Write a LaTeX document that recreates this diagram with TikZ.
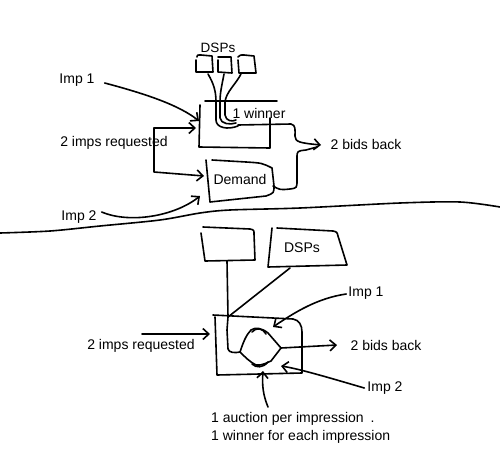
\documentclass[tikz,border=0pt]{standalone}
\usepackage{fontspec}
\setmainfont{Liberation Sans}
\usetikzlibrary{arrows.meta,calc}
\begin{document}
\begin{tikzpicture}[x=1pt,y=-1pt,
  sk/.style={line width=1.6pt,line cap=round,line join=round},
  arr/.style={sk,-{Straight Barb[length=6pt,width=11pt,line width=1.6pt]}},
  lbl/.style={font=\fontsize{14}{16}\selectfont,inner sep=0pt}]
\useasboundingbox (0,0) rectangle (500,458);

% ---------- top half ----------
\node[lbl,font=\fontsize{13.5}{15}\selectfont] (dspT) at (218,48) {DSPs};
\draw[sk] (197,57) .. controls (197,55) .. (201,55) -- (212,56) -- (213,72) -- (196,72) -- (196,60);
\draw[sk] (218,57) -- (231,57) -- (232,73) -- (218,72) -- (218,60);
\draw[sk] (238,57) .. controls (240,55) .. (244,55) -- (254,56) -- (256,73) -- (239,73) -- (238,60);

\coordinate (curlT) at (238,125);
\draw[sk] (208,74) .. controls (214,84) and (216,92) .. (216,102) -- (216,120) .. controls (216,128) and (228,130) .. (238,126);
\draw[sk] (224,74) .. controls (222,85) and (220,92) .. (220,102) -- (220,118) .. controls (221,124) and (230,125) .. (236,123);
\draw[sk] (241,74) .. controls (236,84) and (226,92) .. (225,102) -- (225,115) .. controls (226,121) and (232,122) .. (236,120);

% auction box (top)
\draw[sk] (205,101) -- (277,101);
\draw[sk] (200,105) -- (199,147) -- (270,148) -- (270,118);
\node[lbl] (win) at (259,113) {1 winner};

% demand box
\draw[sk] (212,160) -- (246,162) .. controls (262,163) .. (272,168) -- (274,186) .. controls (274,193) .. (266,196) -- (210,202) -- (206,160);
\node[lbl] (dem) at (240,179) {Demand};

% bids back (top)
\node[lbl] (bidsT) at (366,144) {2 bids back};
\coordinate (tipT) at (321,145);
\draw[arr] (curlT) -- (291,124) .. controls (296,125) and (295,130) .. (295,136) .. controls (295,142) and (300,143) .. (tipT);
\draw[sk] (273,186) .. controls (280,190) .. (290,189) .. controls (297,188) .. (297,180) -- (297,158) .. controls (297,151) .. (306,150) -- (317,147);

% Imp 1 (top)
\node[lbl] (imp1T) at (77,80) {Imp 1};
\coordinate (a1T) at (199,121);
\draw[arr] ($(imp1T.east)+(10,3)$) .. controls (150,95) and (180,106) .. (a1T);

% 2 imps requested (top)
\node[lbl] (reqT) at (114,143) {2 imps requested};
\coordinate (brT) at (154,128);
\coordinate (r1T) at (196,128);
\coordinate (r2T) at (204,176);
\draw[arr] (brT) -- (r1T);
\draw[arr] (brT) -- (154,172) -- (r2T);

% Imp 2 (top)
\node[lbl] (imp2T) at (79,217) {Imp 2};
\coordinate (a2T) at (200,196);
\draw[arr] ($(imp2T.east)+(5,-5)$) .. controls (130,224) and (175,216) .. (a2T);

% divider
\draw[sk] plot[smooth] coordinates {(0,233) (50,231) (100,226) (160,220) (200,213) (230,210) (300,208) (400,203) (460,202) (500,207)};

% ---------- bottom half ----------
\draw[sk] (203,227) -- (250,229) .. controls (254,230) .. (254,234) -- (255,260) -- (205,261) -- (201,233);
\draw[sk] (277,228) -- (333,231) .. controls (337,232) .. (338,236) -- (347,265) -- (268,267) -- (272,228);
\node[lbl] (dspB) at (302,248) {DSPs};

\coordinate (jn) at (228,317);
\draw[sk] (227,261) -- (jn);
\draw[sk] (290,268) -- (jn);

% auction box (bottom)
\draw[sk] (213,315) -- (293,319) .. controls (299,320) and (302,325) .. (302,332) -- (302,373) -- (217,375) -- (215,317);

% inner paths
\coordinate (spl) at (240,352);
\coordinate (mrg) at (281,348);
\draw[sk] (jn) -- (227,330) -- (228,349) .. controls (229,353) and (235,353) .. (spl);
\draw[sk] (spl) .. controls (243,343) and (246,335) .. (251,330) .. controls (255,327) and (262,328) .. (268,333) -- (mrg);
\draw[sk] (spl) .. controls (245,357) and (250,362) .. (256,365) .. controls (262,366) and (268,362) .. (271,361) -- (mrg);
\draw[sk] (252,332) .. controls (256,327) and (263,328) .. (266,334);
\draw[sk] (252,364) .. controls (256,368) and (263,368) .. (268,362);

% bids back (bottom)
\node[lbl] (bidsB) at (386,345) {2 bids back};
\coordinate (tipB) at (337,345);
\draw[arr] (mrg) -- (tipB);

% 2 imps requested (bottom)
\node[lbl] (reqB) at (141,346) {2 imps requested};
\coordinate (s2B) at (142,334);
\coordinate (t2B) at (210,334);
\draw[arr] (s2B) -- (t2B);

% Imp 1 (bottom)
\node[lbl] (imp1B) at (366,293) {Imp 1};
\coordinate (a1B) at (273,327);
\draw[arr] ($(imp1B.west)+(-2,1)$) .. controls (318,298) and (295,312) .. (a1B);

% Imp 2 (bottom)
\node[lbl] (imp2B) at (385,388) {Imp 2};
\coordinate (a2B) at (281,366);
\draw[arr] ($(imp2B.west)+(-3,0)$) .. controls (330,378) and (300,369) .. (a2B);

% notes
\node[lbl,anchor=west] (n1) at (211,419) {1 auction per impression\hspace{7pt}.};
\node[lbl,anchor=west] (n2) at (211,437) {1 winner for each impression};
\coordinate (upS) at (268,407);
\coordinate (upT) at (263,371);
\draw[arr] (upS) .. controls (263,395) and (262,385) .. (upT);
\end{tikzpicture}
\end{document}
